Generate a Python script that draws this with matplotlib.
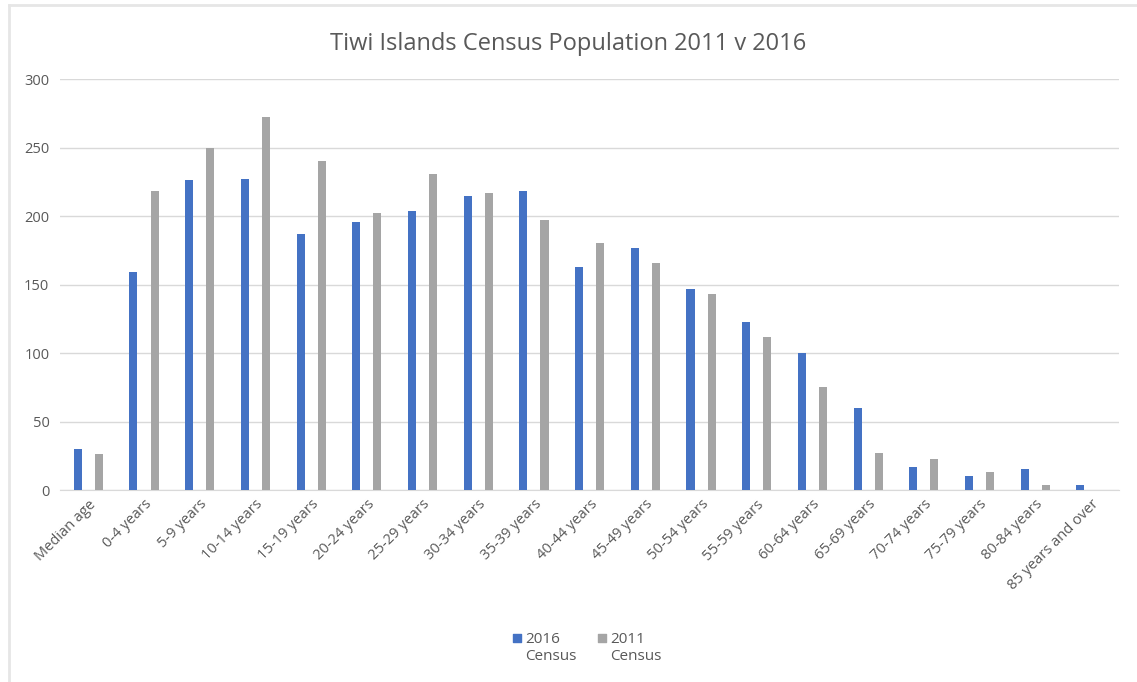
import matplotlib
matplotlib.use("Agg")
import matplotlib.pyplot as plt
import numpy as np
from matplotlib.lines import Line2D
from matplotlib.path import Path

# age groups and counts
categories = ["Median age", "0-4 years", "5-9 years", "10-14 years", "15-19 years",
              "20-24 years", "25-29 years", "30-34 years", "35-39 years", "40-44 years",
              "45-49 years", "50-54 years", "55-59 years", "60-64 years", "65-69 years",
              "70-74 years", "75-79 years", "80-84 years", "85 years and over"]
census_2016 = [30, 159, 226, 227, 187, 196, 204, 215, 218, 163, 177, 147, 123, 100, 60, 17, 10, 15, 4]
census_2011 = [26, 218, 250, 272, 240, 202, 231, 217, 197, 180, 166, 143, 112, 75, 27, 23, 13, 4, 0]
yticks = [0, 50, 100, 150, 200, 250, 300]

blue = "#4472C4"
grey = "#A5A5A5"
txt = "#595959"

plt.rcParams['font.family'] = ['Open Sans', 'DejaVu Sans']

fig = plt.figure(figsize=(11.37, 6.82), dpi=100)
ax = fig.add_axes([0.0532, 0.2815, 0.9308, 0.6025])

x = np.arange(len(categories))
w = 0.145
off = 0.19
ax.bar(x - off, census_2016, width=w, color=blue, label="2016\nCensus", zorder=3)
ax.bar(x + off, census_2011, width=w, color=grey, label="2011\nCensus", zorder=3)

ax.set_xlim(-0.5, len(categories) - 0.5)
ax.set_ylim(0, 300)
ax.set_yticks(yticks)
ax.yaxis.grid(True, color="#d9d9d9", linewidth=1)
ax.set_axisbelow(True)
for s in ["top", "right", "left"]:
    ax.spines[s].set_visible(False)
ax.spines["bottom"].set_color("#d9d9d9")
ax.tick_params(axis="both", length=0, colors=txt, labelsize=10.5)
ax.tick_params(axis="y", pad=8)
ax.tick_params(axis="x", pad=5)
ax.set_xticks(x)
ax.set_xticklabels(categories, rotation=45, ha="right", rotation_mode="anchor")

fig.text(0.5, 0.936, "Tiwi Islands Census Population 2011 v 2016", ha="center", va="center",
         fontsize=17, color=txt)

# square marker lifted up so it sits beside the first line of the label
sq = Path([(-0.5, 0.7), (0.5, 0.7), (0.5, 1.7), (-0.5, 1.7), (-0.5, 0.7)],
          [Path.MOVETO, Path.LINETO, Path.LINETO, Path.LINETO, Path.CLOSEPOLY])
handles = [Line2D([], [], marker=sq, linestyle="none", color=blue, markersize=20),
           Line2D([], [], marker=sq, linestyle="none", color=grey, markersize=20)]
fig.legend(handles, ["2016\nCensus", "2011\nCensus"], loc="center", bbox_to_anchor=(0.515, 0.05),
           ncol=2, frameon=False, fontsize=11, labelcolor=txt, handletextpad=0.0,
           columnspacing=1.2, handlelength=1)

# light chart border on the left and top
fig.add_artist(Line2D([0.008, 0.008], [0, 0.993], transform=fig.transFigure, color="#e6e6e6", linewidth=2))
fig.add_artist(Line2D([0.008, 1], [0.993, 0.993], transform=fig.transFigure, color="#e6e6e6", linewidth=2))

fig.savefig("out.png", dpi=100)
